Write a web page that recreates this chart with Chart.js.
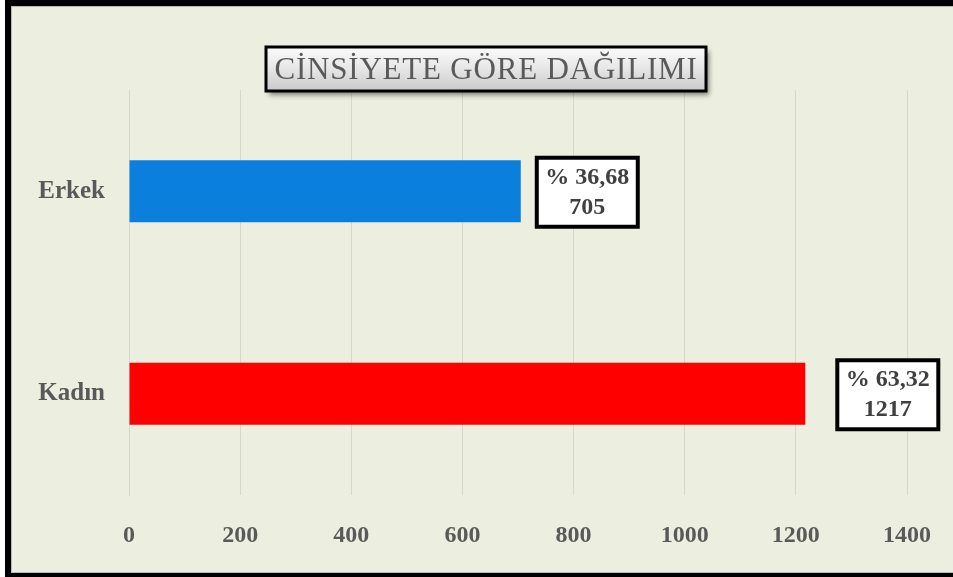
<!DOCTYPE html>
<html>
<head>
<meta charset="utf-8">
<script src="https://cdn.jsdelivr.net/npm/chart.js@4"></script>
<style>
  body { margin: 0; background: #fff; }
  #frame {
    position: absolute; left: 5px; top: 0; width: 960px; height: 579px;
    box-sizing: border-box; border: 6px solid #000; background: #eceedf;
    box-shadow: inset 0 0 0 1px #b9bbb0;
  }
  #chart { position: absolute; left: 0; top: 0; }
</style>
</head>
<body>
<div id="frame"></div>
<canvas id="chart" width="953" height="577"></canvas>
<script>
// chart data
const chartTitle = "CİNSİYETE GÖRE DAĞILIMI";
const categories = ["Erkek", "Kadın"];
const counts = [705, 1217];
const percents = ["36,68", "63,32"];
const barColors = ["#0a7fdc", "#ff0000"];
const axisTicks = [0, 200, 400, 600, 800, 1000, 1200, 1400];

const serif = "'Liberation Serif', 'Times New Roman', serif";

// title box drawn on top of the chart
const titleBox = {
  id: "titleBox",
  afterDraw(chart) {
    const ctx = chart.ctx;
    const x = 266, y = 47, w = 440, h = 44;
    ctx.save();
    ctx.shadowColor = "rgba(0,0,0,0.45)";
    ctx.shadowBlur = 5;
    ctx.shadowOffsetX = 3;
    ctx.shadowOffsetY = 4;
    const g = ctx.createLinearGradient(0, y, 0, y + h);
    g.addColorStop(0, "#fbfbfb");
    g.addColorStop(0.5, "#e6e6e6");
    g.addColorStop(1, "#c9c9c9");
    ctx.fillStyle = g;
    ctx.fillRect(x, y, w, h);
    ctx.shadowColor = "transparent";
    ctx.lineWidth = 3;
    ctx.strokeStyle = "#000";
    ctx.strokeRect(x, y, w, h);
    ctx.fillStyle = "#5a5a5a";
    ctx.font = "31px " + serif;
    ctx.letterSpacing = "0.8px";
    ctx.textAlign = "center";
    ctx.textBaseline = "middle";
    ctx.fillText(chartTitle, x + w / 2, y + h / 2 + 2);
    ctx.restore();
  }
};

// boxed value labels at bar ends
const valueBoxes = {
  id: "valueBoxes",
  afterDatasetsDraw(chart, args, opts) {
    const ctx = chart.ctx;
    const meta = chart.getDatasetMeta(0);
    ctx.save();
    meta.data.forEach((bar, i) => {
      const w = 101, h = 69;
      const left = bar.x + opts.gap[i];
      const top = bar.y - h / 2 + 1;
      ctx.fillStyle = "#fff";
      ctx.fillRect(left, top, w, h);
      ctx.lineWidth = 4;
      ctx.strokeStyle = "#000";
      ctx.strokeRect(left, top, w, h);
      ctx.fillStyle = "#404040";
      ctx.font = "bold 24px " + serif;
      ctx.textAlign = "center";
      ctx.textBaseline = "middle";
      ctx.fillText("% " + percents[i], left + w / 2, top + 20);
      ctx.fillText(String(counts[i]), left + w / 2, top + 50);
    });
    ctx.restore();
  }
};

new Chart(document.getElementById("chart"), {
  type: "bar",
  data: {
    labels: categories,
    datasets: [{
      data: counts,
      backgroundColor: barColors,
      barPercentage: 0.306,
      categoryPercentage: 1
    }]
  },
  options: {
    responsive: false,
    animation: false,
    indexAxis: "y",
    layout: { padding: { left: 0, right: 46, top: 90, bottom: 0 } },
    plugins: {
      legend: { display: false },
      tooltip: { enabled: false },
      valueBoxes: { gap: [16, 32] }
    },
    scales: {
      x: {
        min: 0,
        max: 1400,
        afterBuildTicks: (s) => { s.ticks = axisTicks.map((v) => ({ value: v })); },
        grid: { color: "#d6d8d0", drawTicks: false },
        border: { display: false },
        ticks: {
          padding: 26,
          color: "#595959",
          font: { family: serif, size: 24, weight: "bold" },
          callback: (v) => String(v)
        },
        afterFit: (s) => { s.height = 82; s.paddingLeft = 0; s.paddingRight = 0; }
      },
      y: {
        grid: { display: false, drawTicks: false },
        border: { color: "#d6d8d0" },
        ticks: {
          padding: 24,
          color: "#595959",
          font: { family: serif, size: 25, weight: "bold" }
        },
        afterFit: (s) => { s.width = 129; s.paddingTop = 0; s.paddingBottom = 0; }
      }
    }
  },
  plugins: [valueBoxes, titleBox]
});
</script>
</body>
</html>
